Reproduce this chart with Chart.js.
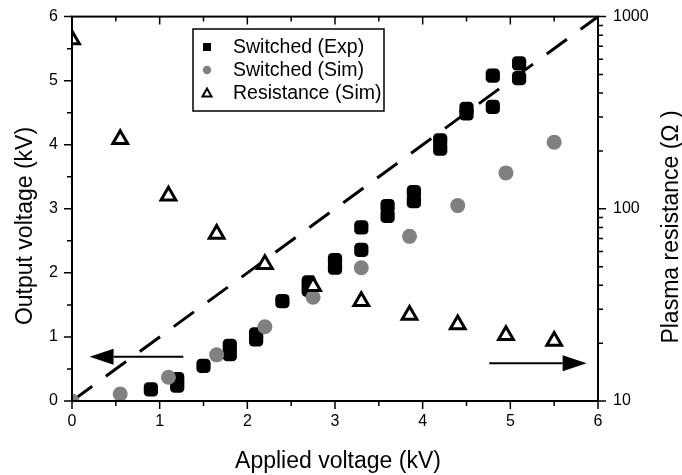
<!DOCTYPE html>
<html>
<head>
<meta charset="utf-8">
<script src="https://cdn.jsdelivr.net/npm/chart.js@4/dist/chart.umd.min.js"></script>
<style>
  body { margin: 0; background: #fff; }
  #wrap { width: 682px; height: 475px; }
</style>
</head>
<body>
<div id="wrap"><canvas id="myChart" width="682" height="475"></canvas></div>
<script>
// Switched (Exp) - black squares
const expX = [0.90, 1.20, 1.20, 1.50, 1.80, 1.80, 2.10, 2.10, 2.40, 2.70, 2.70, 3.00, 3.00, 3.30, 3.30, 3.60, 3.60, 3.90, 3.90, 4.20, 4.20, 4.50, 4.50, 4.80, 4.80, 5.10, 5.10];
const expY = [0.18, 0.24, 0.34, 0.55, 0.73, 0.86, 0.96, 1.04, 1.56, 1.74, 1.85, 2.08, 2.20, 2.36, 2.71, 2.89, 3.04, 3.12, 3.26, 3.94, 4.07, 4.49, 4.56, 4.59, 5.08, 5.04, 5.27];

// Switched (Sim) - grey circles
const simX = [0, 0.55, 1.10, 1.65, 2.20, 2.75, 3.30, 3.85, 4.40, 4.95, 5.50];
const simY = [0, 0.11, 0.37, 0.72, 1.16, 1.62, 2.08, 2.57, 3.05, 3.56, 4.04];

// Resistance (Sim) - open triangles, right log axis (Ohm)
const resX = [0, 0.55, 1.10, 1.65, 2.20, 2.75, 3.30, 3.85, 4.40, 4.95, 5.50];
const resY = [760, 230, 117, 74, 51.5, 39.5, 33, 28, 25, 22, 20.5];

// dashed y = x guide
const guideX = [0, 6];
const guideY = [0, 6];

// arrows (data units, left axis)
const leftArrow = [[1.27, 0.69], [0.20, 0.69]];
const rightArrow = [[4.76, 0.59], [5.87, 0.59]];

const xTicks = [0, 1, 2, 3, 4, 5, 6];
const yTicks = [0, 1, 2, 3, 4, 5, 6];
const resTicks = [10, 100, 1000];

const legendItems = ["Switched (Exp)", "Switched (Sim)", "Resistance (Sim)"];

const FONT = "'Liberation Sans', Arial, sans-serif";
const grey = "#808080";

const pts = (xs, ys) => xs.map((x, i) => ({ x: x, y: ys[i] }));

const decorPlugin = {
    id: 'decor',
    afterDraw(chart) {
        const ctx = chart.ctx;
        const a = chart.chartArea;
        const sx = chart.scales.x, sy = chart.scales.y, sr = chart.scales.y2;
        ctx.save();
        ctx.strokeStyle = '#000';
        ctx.fillStyle = '#000';
        ctx.lineWidth = 2;
        // frame
        ctx.strokeRect(a.left, a.top, a.right - a.left, a.bottom - a.top);

        ctx.lineWidth = 1.5;
        ctx.beginPath();
        // x ticks bottom (outward) and top (inward)
        for (let v = 0; v <= 6.001; v += 0.5) {
            const p = sx.getPixelForValue(v);
            const len = Number.isInteger(v) ? 8 : 5;
            ctx.moveTo(p, a.bottom); ctx.lineTo(p, a.bottom + len);
            ctx.moveTo(p, a.top); ctx.lineTo(p, a.top + len);
        }
        // left y ticks
        for (let v = 0; v <= 6.001; v += 0.5) {
            const p = sy.getPixelForValue(v);
            const len = Number.isInteger(v) ? 8 : 5;
            ctx.moveTo(a.left, p); ctx.lineTo(a.left - len, p);
        }
        // right log ticks
        for (let d = 10; d < 1000; d *= 10) {
            for (let m = 1; m <= 10; m++) {
                const v = d * m;
                const p = sr.getPixelForValue(v);
                const len = (m === 1 || m === 10) ? 8 : 5;
                ctx.moveTo(a.right, p); ctx.lineTo(a.right + len, p);
            }
        }
        ctx.stroke();

        // arrows
        const arrow = (pair) => {
            const x0 = sx.getPixelForValue(pair[0][0]), y0 = sy.getPixelForValue(pair[0][1]);
            const x1 = sx.getPixelForValue(pair[1][0]), y1 = sy.getPixelForValue(pair[1][1]);
            const dir = Math.sign(x1 - x0);
            const head = 24, half = 8;
            ctx.lineWidth = 2;
            ctx.beginPath();
            ctx.moveTo(x0, y0); ctx.lineTo(x1 - dir * head, y1);
            ctx.stroke();
            ctx.beginPath();
            ctx.moveTo(x1, y1);
            ctx.lineTo(x1 - dir * head, y1 - half);
            ctx.lineTo(x1 - dir * head, y1 + half);
            ctx.closePath();
            ctx.fill();
        };
        arrow(leftArrow);
        arrow(rightArrow);

        // legend
        ctx.lineWidth = 1.5;
        ctx.strokeRect(193, 29, 191, 82);
        ctx.font = '19.5px ' + FONT;
        ctx.textBaseline = 'middle';
        ctx.textAlign = 'left';
        legendItems.forEach((t, i) => {
            const y = 47 + i * 23;
            const mx = 207;
            if (i === 0) {
                ctx.fillStyle = '#000';
                ctx.fillRect(mx - 4, y - 4, 8, 8);
            } else if (i === 1) {
                ctx.fillStyle = grey;
                ctx.beginPath(); ctx.arc(mx, y, 4.2, 0, Math.PI * 2); ctx.fill();
            } else {
                ctx.lineWidth = 2;
                ctx.beginPath();
                ctx.moveTo(mx, y - 4.5); ctx.lineTo(mx + 4.5, y + 3.5); ctx.lineTo(mx - 4.5, y + 3.5);
                ctx.closePath(); ctx.stroke();
            }
            ctx.fillStyle = '#000';
            ctx.fillText(t, 233, y + 1);
        });

        // axis titles
        ctx.font = '23px ' + FONT;
        ctx.textAlign = 'center';
        ctx.textBaseline = 'alphabetic';
        ctx.fillText('Applied voltage (kV)', 338, 468);
        ctx.save();
        ctx.translate(32, 226);
        ctx.rotate(-Math.PI / 2);
        ctx.fillText('Output voltage (kV)', 0, 0);
        ctx.restore();
        ctx.save();
        ctx.translate(678, 227);
        ctx.rotate(-Math.PI / 2);
        ctx.fillText('Plasma resistance (\u03A9 )', 0, 0);
        ctx.restore();
        ctx.restore();
    }
};

const ctx = document.getElementById('myChart').getContext('2d');
const myChart = new Chart(ctx, {
    type: 'scatter',
    data: {
        datasets: [
            {
                label: legendItems[2],
                data: pts(resX, resY),
                yAxisID: 'y2',
                pointStyle: 'triangle',
                pointRadius: 8.5,
                borderWidth: 3,
                borderColor: '#000',
                backgroundColor: '#fff',
                order: 0
            },
            {
                label: legendItems[1],
                data: pts(simX, simY),
                yAxisID: 'y',
                pointStyle: 'circle',
                pointRadius: 7.5,
                borderWidth: 0,
                backgroundColor: grey,
                borderColor: grey,
                order: 1
            },
            {
                label: legendItems[0],
                data: pts(expX, expY),
                yAxisID: 'y',
                pointStyle: 'rectRounded',
                pointRadius: 8.3,
                borderWidth: 0,
                backgroundColor: '#000',
                borderColor: '#000',
                order: 2
            },
            {
                label: 'guide',
                data: pts(guideX, guideY),
                yAxisID: 'y',
                showLine: true,
                borderDash: [25, 17],
                borderWidth: 3,
                borderColor: '#000',
                pointRadius: 0,
                order: 3
            }
        ]
    },
    options: {
        responsive: false,
        animation: false,
        events: [],
        layout: { padding: { top: 15, left: 0, right: 0, bottom: 0 } },
        plugins: { legend: { display: false }, tooltip: { enabled: false } },
        scales: {
            x: {
                type: 'linear', min: 0, max: 6,
                grid: { display: false }, border: { display: false },
                afterBuildTicks: (s) => { s.ticks = xTicks.map(v => ({ value: v })); },
                afterFit: (s) => { s.height = 74; },
                ticks: { color: '#000', padding: 3, font: { size: 16, family: FONT }, maxRotation: 0 }
            },
            y: {
                type: 'linear', position: 'left', min: 0, max: 6,
                grid: { display: false }, border: { display: false },
                afterBuildTicks: (s) => { s.ticks = yTicks.map(v => ({ value: v })); },
                afterFit: (s) => { s.width = 72; },
                ticks: { color: '#000', padding: 6, font: { size: 16, family: FONT } }
            },
            y2: {
                type: 'logarithmic', position: 'right', min: 10, max: 1000,
                grid: { display: false }, border: { display: false },
                afterBuildTicks: (s) => { s.ticks = resTicks.map(v => ({ value: v })); },
                afterFit: (s) => { s.width = 84; },
                ticks: { color: '#000', padding: 7, font: { size: 16, family: FONT }, callback: (v) => String(v) }
            }
        }
    },
    plugins: [decorPlugin]
});
</script>
</body>
</html>
